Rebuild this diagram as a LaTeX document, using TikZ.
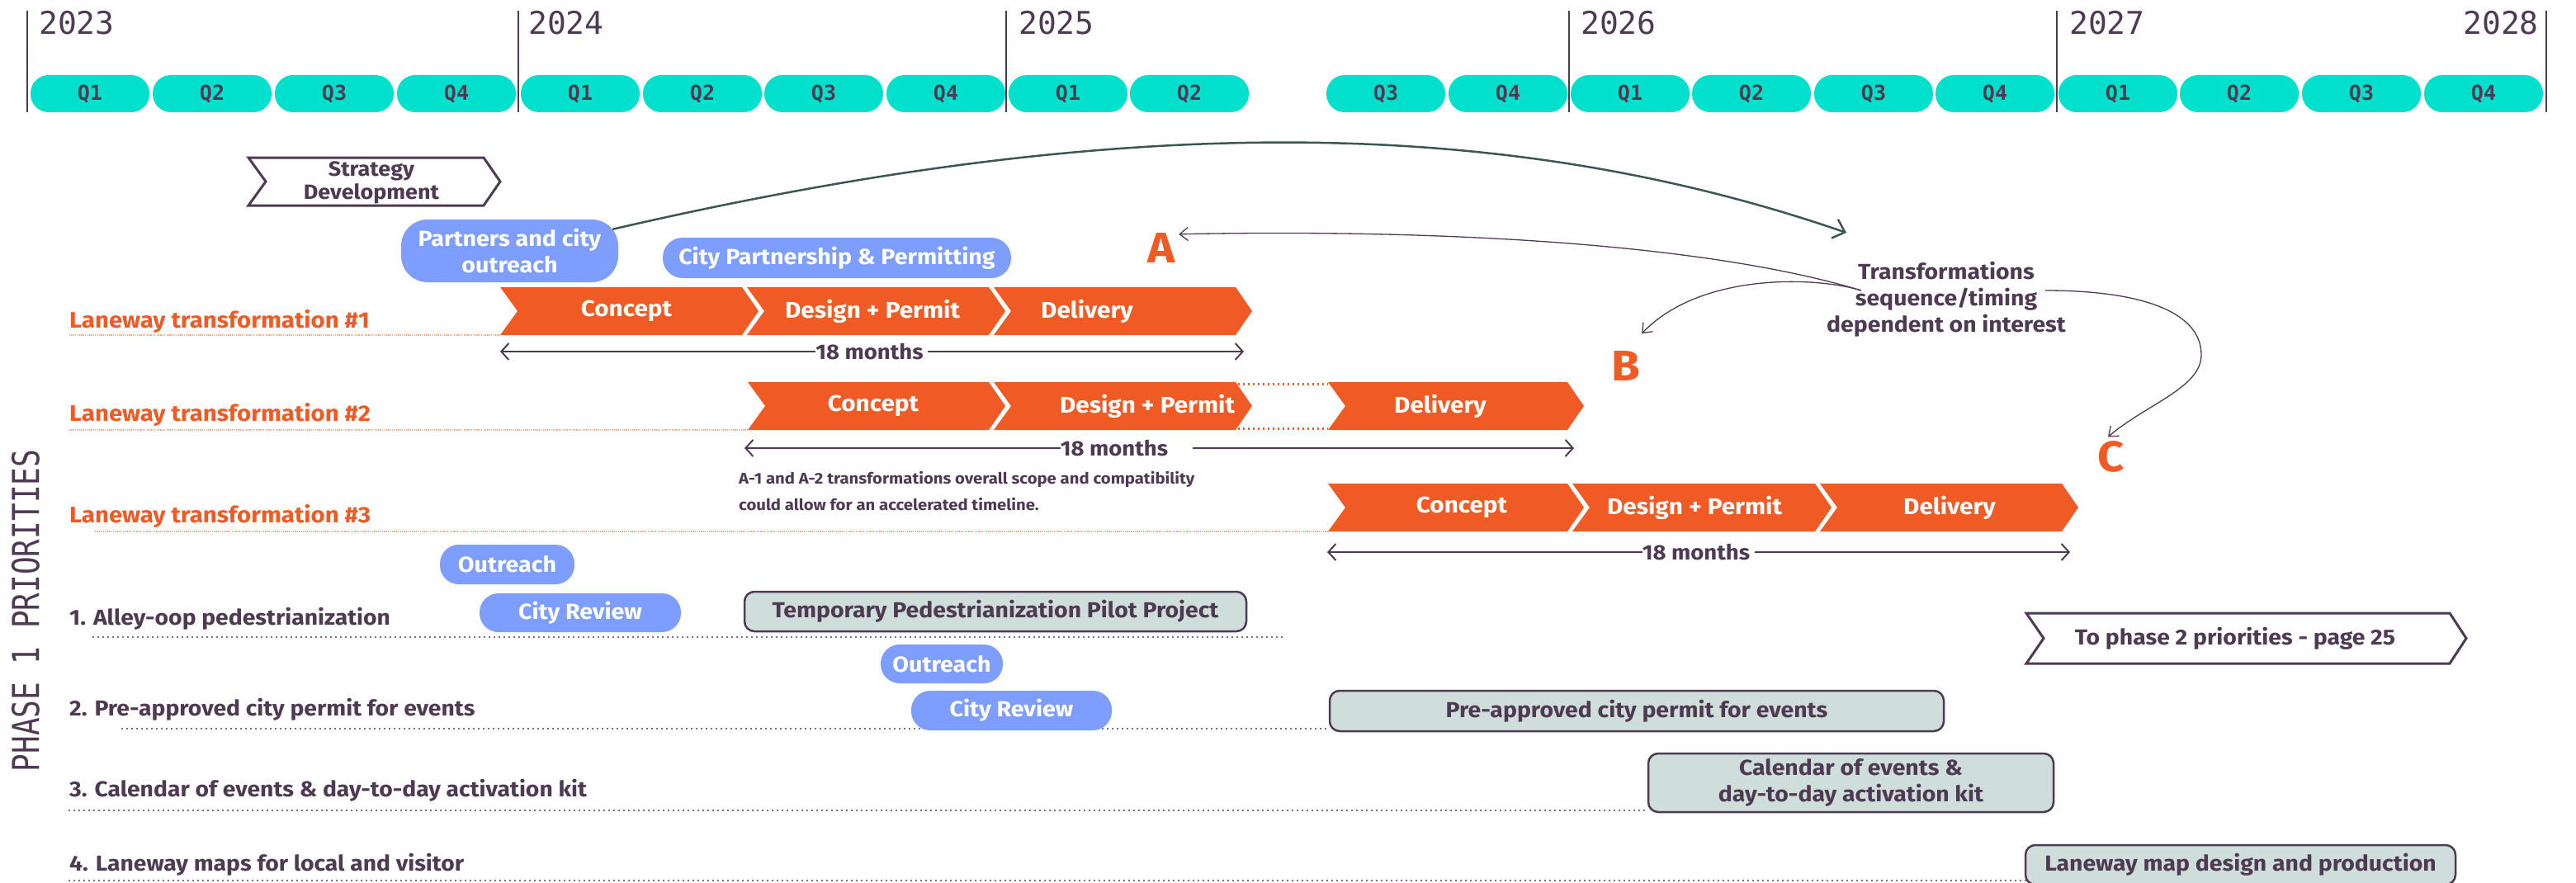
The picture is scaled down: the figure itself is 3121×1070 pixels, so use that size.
\documentclass[tikz,border=0pt]{standalone}
\usepackage{fontspec}
\setmainfont{Fira Sans}[FakeStretch=1.08]
\newfontfamily\monoface{DejaVu Sans Mono}
\newfontfamily\phaseface{DejaVu Sans Mono}[FakeStretch=0.8]
\usetikzlibrary{arrows.meta}

\definecolor{ink}{RGB}{78,58,82}
\definecolor{qteal}{RGB}{0,224,204}
\definecolor{lorange}{RGB}{240,90,36}
\definecolor{lightorange}{RGB}{246,170,140}
\definecolor{pblue}{RGB}{125,157,255}
\definecolor{gfill}{RGB}{207,221,219}
\definecolor{cgreen}{RGB}{60,87,83}

\newcommand{\fsz}[2]{\fontsize{#1}{#2}\selectfont}

% chevron body: style, left x, shoulder x, top y, bottom y
\newcommand{\chevbody}[5]{%
  \path[#1] (#2,#4) -- (#3,#4) -- ({#3+20},{(#4+#5)/2}) -- (#3,#5)
    -- (#2,#5) -- ({#2+21},{(#4+#5)/2}) -- cycle;}

\begin{document}
\begin{tikzpicture}[x=1pt,y=-1pt,
  quarter/.style={fill=qteal, rounded corners=22pt, minimum width=144pt,
    minimum height=45pt, inner sep=0pt, text=ink,
    font=\monoface\bfseries\fsz{25}{25}},
  year/.style={inner sep=0pt, text=ink, font=\monoface\fsz{38}{38}},
  yearline/.style={draw=ink, line width=2pt},
  lane/.style={anchor=base west, inner sep=0pt, text=lorange,
    font=\bfseries\fsz{27.2}{30}},
  task/.style={anchor=base west, inner sep=0pt, text=ink,
    font=\bfseries\fsz{26.2}{30}},
  lanedots/.style={draw=lightorange, line width=1.2pt,
    dash pattern=on 1.2pt off 1.2pt},
  taskdots/.style={draw=ink, line width=2.2pt, dash pattern=on 0pt off 6pt,
    line cap=round},
  gapdots/.style={draw=lorange, line width=3pt, dash pattern=on 2pt off 4pt},
  bar/.style={fill=lorange},
  bartext/.style={text=white, inner sep=0pt, font=\bfseries\fsz{27.5}{27.5}},
  pill/.style={fill=pblue, rounded corners=23pt, inner sep=0pt, text=white,
    align=center, font=\bfseries\fsz{26.5}{32}},
  graybox/.style={fill=gfill, draw=ink, line width=2.5pt, rounded corners=12pt,
    inner sep=0pt, text=ink, align=center, font=\bfseries\fsz{26.3}{32}},
  outlinechev/.style={draw=ink, fill=white, line width=3pt},
  chevlabel/.style={text=ink, inner sep=0pt, align=center,
    font=\bfseries\fsz{25}{28}},
  months/.style={text=ink, inner sep=0pt, font=\bfseries\fsz{25.5}{25.5}},
  span/.style={draw=ink, line width=2pt,
    -{Straight Barb[length=9pt,width=20pt]}},
  letter/.style={text=lorange, inner sep=0pt, font=\bfseries\fsz{52}{52}},
  note/.style={text=ink, inner sep=0pt, align=left, font=\bfseries\fsz{18.8}{32}},
  thinarrow/.style={draw=ink, line width=1.3pt,
    -{Straight Barb[length=10pt,width=16pt]}},
  bigarrow/.style={draw=cgreen, line width=2.5pt,
    -{Straight Barb[length=13pt,width=24pt]}},
]
\useasboundingbox (0,0) rectangle (3121,1070);

% ---------- time axis ----------
\foreach \x in {33,628,1219,1901,2492,3085}
  \draw[yearline] (\x,13) -- (\x,136);
\node[year, anchor=north west] (y2023) at (47,13) {2023};
\node[year, anchor=north west] (y2024) at (640,13) {2024};
\node[year, anchor=north west] (y2025) at (1234,13) {2025};
\node[year, anchor=north west] (y2026) at (1915,13) {2026};
\node[year, anchor=north west] (y2027) at (2507,13) {2027};
\node[year, anchor=north east] (y2028) at (3076,13) {2028};

\foreach \cx/\lab/\nm in {109/Q1/qa, 257/Q2/qb, 405/Q3/qc, 553/Q4/qd,
    703/Q1/qe, 851/Q2/qf, 998/Q3/qg, 1146/Q4/qh,
    1294/Q1/qi, 1441/Q2/qj, 1679/Q3/qk, 1827/Q4/ql,
    1975/Q1/qm, 2122/Q2/qn, 2270/Q3/qo, 2417/Q4/qp,
    2566/Q1/qq, 2713/Q2/qr, 2861/Q3/qs, 3009/Q4/qt}
  \node[quarter] (\nm) at (\cx,113.5) {\lab};

% ---------- side title ----------
\node[rotate=90, inner sep=0pt, text=ink, font=\phaseface\fsz{45}{45}]
  (phase) at (31,740) {PHASE 1 PRIORITIES};

% ---------- guide lines ----------
\draw[lanedots] (84,406) -- (606,406);
\draw[lanedots] (84,521) -- (906,521);
\draw[lanedots] (115,644) -- (1609,644);
\draw[taskdots] (113,772) -- (1558,772);
\draw[taskdots] (148,883) -- (1611,883);
\draw[taskdots] (84,982) -- (1997,982);
\draw[taskdots] (84,1067) -- (2454,1067);

% ---------- row labels ----------
\node[lane] (lt1) at (84,397) {Laneway transformation \#1};
\node[lane] (lt2) at (84,510) {Laneway transformation \#2};
\node[lane] (lt3) at (84,633) {Laneway transformation \#3};
\node[task] (pr1) at (84,757) {1. Alley-oop pedestrianization};
\node[task] (pr2) at (84,867) {2. Pre-approved city permit for events};
\node[task] (pr3) at (84,965) {3. Calendar of events \& day-to-day activation kit};
\node[task] (pr4) at (84,1055) {4. Laneway maps for local and visitor};

% ---------- strategy ----------
\chevbody{outlinechev}{301}{586}{191}{249}
\node[chevlabel] (strat) at (450,221) {Strategy\\Development};

% ---------- laneway transformation #1 ----------
\chevbody{bar}{606}{899}{348}{406}
\chevbody{bar}{905}{1198}{348}{406}
\chevbody{bar}{1204}{1497}{348}{406}
\node[bartext] (c1) at (759,377) {Concept};
\node[bartext] (d1) at (1057,377) {Design + Permit};
\node[bartext] (v1) at (1317,377) {Delivery};

% ---------- laneway transformation #2 ----------
\draw[gapdots] (1500,465) -- (1609,465);
\draw[gapdots] (1500,519) -- (1609,519);
\chevbody{bar}{906}{1198}{463}{521}
\chevbody{bar}{1204}{1497}{463}{521}
\chevbody{bar}{1609}{1899}{463}{521}
\node[bartext] (c2) at (1058,492) {Concept};
\node[bartext] (d2) at (1390,492) {Design + Permit};
\node[bartext] (v2) at (1745,492) {Delivery};

% ---------- laneway transformation #3 ----------
\chevbody{bar}{1609}{1899}{586}{644}
\chevbody{bar}{1905}{2199}{586}{644}
\chevbody{bar}{2205}{2498}{586}{644}
\node[bartext] (c3) at (1771,615) {Concept};
\node[bartext] (d3) at (2053,615) {Design + Permit};
\node[bartext] (v3) at (2362,615) {Delivery};

% ---------- durations ----------
\node[months] (m1) at (1053.5,426) {18 months};
\coordinate (m1L) at (606,426);
\coordinate (m1R) at (1507,426);
\draw[span] (m1.west) -- (m1L);
\draw[span] ([xshift=5pt]m1.east) -- (m1R);

\node[months] (m2) at (1350,543) {18 months};
\coordinate (m2L) at (902,543);
\coordinate (m2R) at (1907,543);
\draw[span] (m2.west) -- (m2L);
\draw[span] ([xshift=30pt]m2.east) -- (m2R);

\node[months] (m3) at (2055,669) {18 months};
\coordinate (m3L) at (1608,669);
\coordinate (m3R) at (2508,669);
\draw[span] (m3.west) -- (m3L);
\draw[span] ([xshift=6pt]m3.east) -- (m3R);

\node[note, anchor=north west] (note) at (895,571)
  {A-1 and A-2 transformations overall scope and compatibility\\
   could allow for an accelerated timeline.};

% ---------- outreach and review pills ----------
\node[pill, minimum width=263pt, minimum height=76pt, rounded corners=32pt]
  (pO) at (617.5,304) {Partners and city\\outreach};
\node[pill, minimum width=422pt, minimum height=49pt, rounded corners=24pt]
  (pCP) at (1014,312.5) {City Partnership \& Permitting};
\node[pill, minimum width=163pt, minimum height=48pt] (o1) at (614.5,684) {Outreach};
\node[pill, minimum width=244pt, minimum height=47pt] (r1) at (703,742.5) {City Review};
\node[pill, minimum width=148pt, minimum height=47pt] (o2) at (1141,804.5) {Outreach};
\node[pill, minimum width=243pt, minimum height=48pt] (r2) at (1225.5,861) {City Review};

% ---------- deliverables ----------
\node[graybox, minimum width=608pt, minimum height=48pt] (pilot) at (1206,741)
  {Temporary Pedestrianization Pilot Project};
\node[graybox, minimum width=744pt, minimum height=49pt] (permit) at (1983,861.5)
  {Pre-approved city permit for events};
\node[graybox, minimum width=491pt, minimum height=71pt] (kit) at (2242.5,948.5)
  {Calendar of events \&\\day-to-day activation kit};
\node[graybox, minimum width=521pt, minimum height=48pt] (map) at (2714.5,1048)
  {Laneway map design and production};

\chevbody{outlinechev}{2455}{2968}{743}{804}
\node[chevlabel, font=\bfseries\fsz{26.3}{28}] (next) at (2708,773.5)
  {To phase 2 priorities - page 25};

% ---------- sequencing note ----------
\node[text=ink, inner sep=0pt, align=center, font=\bfseries\fsz{26.3}{32}]
  (tT) at (2358,363) {Transformations\\sequence/timing\\dependent on interest};
\node[letter] (A) at (1407.5,300) {A};
\node[letter] (B) at (1969.5,443.5) {B};
\node[letter] (C) at (2558,553.5) {C};

\coordinate (tipG) at (2237,282);
\coordinate (srcL) at (2255,352);
\coordinate (srcR) at (2478,352);

\draw[bigarrow] ([xshift=-7pt,yshift=-12pt]pO.north east)
  .. controls (1350,137) and (1817,137) .. (tipG);
\draw[thinarrow] (srcL) .. controls (2050,290) and (1700,278)
  .. ([xshift=4pt,yshift=-2pt]A.north east);
\draw[thinarrow] (srcL) .. controls (2200,335) and (2060,330)
  .. ([xshift=2pt,yshift=21pt]B.north east);
\draw[thinarrow] (srcR) .. controls (2600,352) and (2667,380) .. (2667,430)
  .. controls (2667,470) and (2600,490) .. ([xshift=-4pt,yshift=5pt]C.north);
\end{tikzpicture}
\end{document}
